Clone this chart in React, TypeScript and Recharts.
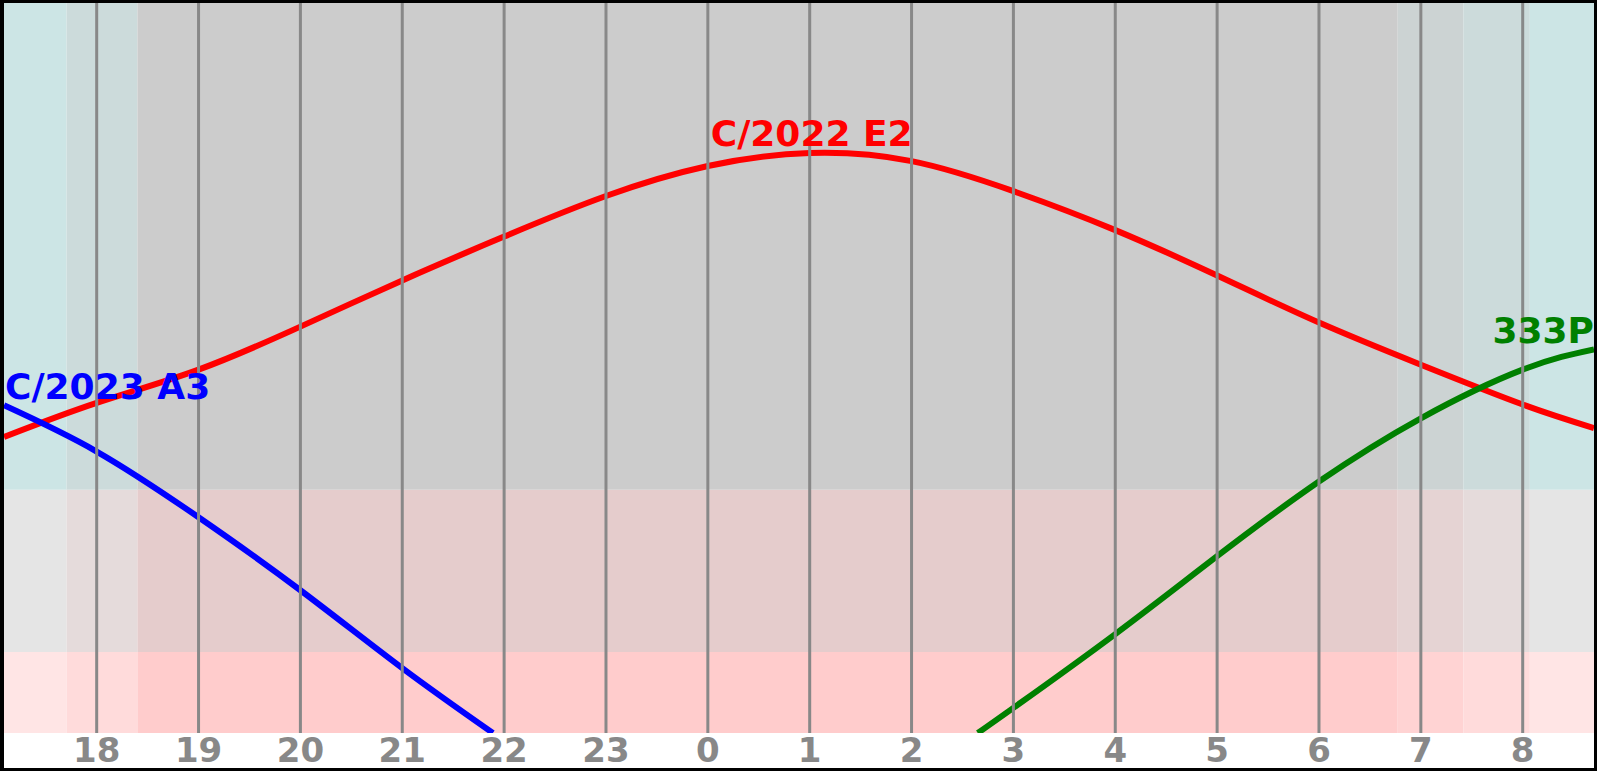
import React from 'react'
import { ComposedChart, Line, XAxis, YAxis, ReferenceArea, ReferenceLine } from 'recharts'

// hours run past midnight as 24, 25, ... so the night is one continuous axis
const xStart = 17.09
const xEnd = 32.7

const hourTicks = [18, 19, 20, 21, 22, 23, 24, 25, 26, 27, 28, 29, 30, 31, 32]
const hourLabels = ['18', '19', '20', '21', '22', '23', '0', '1', '2', '3', '4', '5', '6', '7', '8']
const altTicks = [10, 30]

// sky phases along the night
const skyFrom = [17.09, 17.705, 18.4, 30.773, 31.417, 32.07]
const skyTo = [17.705, 18.4, 30.773, 31.417, 32.07, 32.7]
const skyPhase = ['civil', 'nautical', 'night', 'astro', 'nautical', 'civil']

// altitude zones
const altFrom = [0, 10, 30]
const altTo = [10, 30, 90]
const altZone = ['low', 'mid', 'high']

const e2Hours = [17.09, 18, 19, 20, 21, 22, 23, 24, 25, 26, 27, 28, 29, 30, 31, 32, 32.7]
const e2Alt = [36.5, 40.7, 44.8, 50.1, 55.8, 61.2, 66.2, 69.9, 71.5, 70.5, 66.8, 62.0, 56.4, 50.6, 45.4, 40.5, 37.6]

const a3Hours = [17.09, 18, 19, 20, 21, 21.89]
const a3Alt = [40.4, 34.7, 26.6, 17.6, 8.0, 0]

const p333Hours = [26.65, 27, 28, 29, 30, 31, 32, 32.7]
const p333Alt = [0, 3.1, 12.2, 21.8, 31.0, 38.8, 44.8, 47.3]

const phaseShade: Record<string, number> = { night: 204, astro: 211, nautical: 219, civil: 229 }
const zoneRed: Record<string, number> = { low: 255, mid: 229, high: 204 }

const toPoints = (hours: number[], alts: number[]) => hours.map((h, i) => ({ h, alt: alts[i] }))

const e2Data = toPoints(e2Hours, e2Alt)
const a3Data = toPoints(a3Hours, a3Alt)
const p333Data = toPoints(p333Hours, p333Alt)

const font = 'DejaVu Sans'

const makeLabel = (text: string, color: string, at: number, anchor: string, dx: number, dy: number) =>
  (props: any) => {
    if (props.index !== at) return null
    return (
      <text
        x={props.x + dx}
        y={props.y + dy}
        fill={color}
        fontSize={36}
        fontWeight="bold"
        fontFamily={font}
        textAnchor={anchor}
      >
        {text}
      </text>
    )
  }

export default function App() {
  const peak = e2Alt.indexOf(Math.max(...e2Alt))

  return (
    <div style={{ position: 'absolute', left: 0, top: 0, width: 1597, height: 771, background: '#fff', fontFamily: font }}>
      <ComposedChart width={1597} height={771} margin={{ top: 3, right: 3, bottom: 3, left: 4 }}>
        <XAxis
          type="number"
          dataKey="h"
          domain={[xStart, xEnd]}
          allowDataOverflow
          ticks={hourTicks}
          interval={0}
          tickFormatter={(v: number) => hourLabels[hourTicks.indexOf(v)]}
          height={35}
          axisLine={false}
          tickLine={false}
          tickSize={0}
          tickMargin={5}
          tick={{ fill: '#888', fontSize: 34, fontWeight: 'bold', fontFamily: font }}
        />
        <YAxis
          type="number"
          domain={[0, 90]}
          allowDataOverflow
          ticks={altTicks}
          mirror
          width={0}
          axisLine={false}
          tickLine={false}
          tickSize={0}
          tickMargin={1}
          tick={{ fill: '#888', fontSize: 34, fontWeight: 'bold', fontFamily: font }}
        />
        {skyPhase.map((phase, i) =>
          altZone.map((zone, j) => {
            const g = phaseShade[phase]
            return (
              <ReferenceArea
                key={`${i}-${j}`}
                x1={skyFrom[i]}
                x2={skyTo[i]}
                y1={altFrom[j]}
                y2={altTo[j]}
                fill={`rgb(${zoneRed[zone]},${g},${g})`}
                fillOpacity={1}
                stroke="none"
              />
            )
          })
        )}
        <Line
          data={e2Data}
          dataKey="alt"
          type="natural"
          stroke="#ff0000"
          strokeWidth={6}
          dot={false}
          isAnimationActive={false}
          label={makeLabel('C/2022 E2', '#ff0000', peak, 'middle', 2, -7)}
        />
        <Line
          data={a3Data}
          dataKey="alt"
          type="natural"
          stroke="#0000ff"
          strokeWidth={6}
          dot={false}
          isAnimationActive={false}
          label={makeLabel('C/2023 A3', '#0000ff', 0, 'start', 1, -6)}
        />
        <Line
          data={p333Data}
          dataKey="alt"
          type="natural"
          stroke="#008000"
          strokeWidth={6}
          dot={false}
          isAnimationActive={false}
          label={makeLabel('333P', '#008000', p333Data.length - 1, 'end', 0, -6)}
        />
        {hourTicks.map((h) => (
          <ReferenceLine key={h} x={h} stroke="#888" strokeWidth={3} />
        ))}
      </ComposedChart>
      {/* outer frame */}
      <div
        style={{
          position: 'absolute',
          left: 0,
          top: 0,
          width: 1597,
          height: 771,
          border: '3px solid #000',
          borderLeftWidth: 4,
          boxSizing: 'border-box',
          pointerEvents: 'none'
        }}
      />
    </div>
  )
}
